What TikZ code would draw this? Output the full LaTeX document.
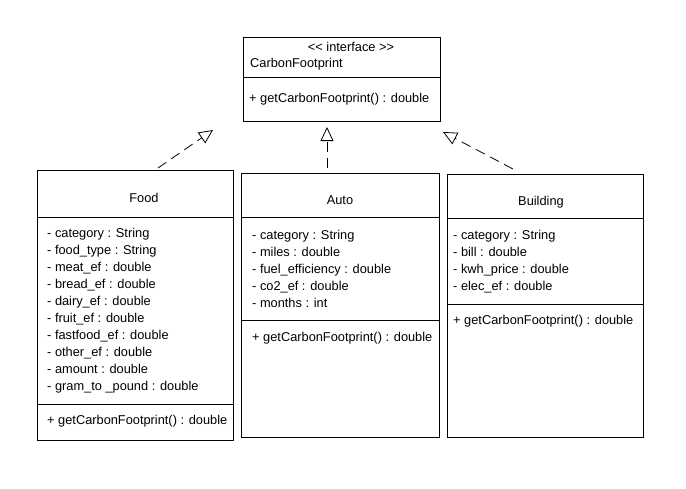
\documentclass[tikz,border=0pt]{standalone}
\usepackage{fontspec}
\setmainfont{Liberation Sans}
\usetikzlibrary{arrows.meta}
\begin{document}
\begin{tikzpicture}[x=1pt,y=-1pt,
  box/.style={draw,line width=0.9pt,anchor=north west,inner sep=0pt,outer sep=0pt},
  txt/.style={anchor=base west,inner sep=0pt,font=\fontsize{12.8}{14}\selectfont},
  ctxt/.style={anchor=base,inner sep=0pt,font=\fontsize{12.8}{14}\selectfont},
  divider/.style={line width=0.9pt},
  realize/.style={line width=0.8pt,dash pattern=on 10pt off 6pt,
    -{Triangle[open,length=14pt,width=13pt,line width=0.8pt]}}]
\useasboundingbox[fill=white] (0,0) rectangle (686,488);

% Interface
\node[box,minimum width=197pt,minimum height=84pt] (cf) at (243,37) {};
\draw[divider] (243,77) -- (440,77);
\node[ctxt] (cfst) at (351,51) {{<}{<} interface {>}{>}};
\node[txt] (cfname) at (250,67) {CarbonFootprint};
\node[txt] (cfm) at (249,102) {+ getCarbonFootprint() : double};

% Food
\node[box,minimum width=196pt,minimum height=270pt] (food) at (37,170) {};
\draw[divider] (37,217) -- (233,217);
\draw[divider] (37,404) -- (233,404);
\node[ctxt] (foodname) at (144,202) {Food};
\foreach \t [count=\i from 0] in {- category : String,- food\_type : String,- meat\_ef : double,- bread\_ef : double,- dairy\_ef : double,- fruit\_ef : double,- fastfood\_ef : double,- other\_ef : double,- amount : double,- gram\_to \_pound : double}
  \node[txt] (fa\i) at (47,237+17*\i) {\t};
\node[txt] (fm) at (47,424) {+ getCarbonFootprint() : double};

% Auto
\node[box,minimum width=198pt,minimum height=264pt] (auto) at (241,173) {};
\draw[divider] (241,217) -- (439,217);
\draw[divider] (241,320) -- (439,320);
\node[ctxt] (autoname) at (340,204) {Auto};
\foreach \t [count=\i from 0] in {- category : String,- miles : double,- fuel\_efficiency : double,- co2\_ef : double,- months : int}
  \node[txt] (aa\i) at (252,239+17*\i) {\t};
\node[txt] (am) at (252,341) {+ getCarbonFootprint() : double};

% Building
\node[box,minimum width=196pt,minimum height=263pt] (bld) at (447,174) {};
\draw[divider] (447,218) -- (643,218);
\draw[divider] (447,304) -- (643,304);
\node[ctxt] (bldname) at (541,205) {Building};
\foreach \t [count=\i from 0] in {- category : String,- bill : double,- kwh\_price : double,- elec\_ef : double}
  \node[txt] (ba\i) at (453,239+17*\i) {\t};
\node[txt] (bm) at (453,324) {+ getCarbonFootprint() : double};

% Realization arrows
\coordinate (fs) at (158,168);
\coordinate (ft) at (213,130);
\coordinate (as) at (327,168);
\coordinate (at) at (327,127);
\coordinate (bs) at (513,169);
\coordinate (bt) at (443,132);
\draw[realize] (fs) -- (ft);
\draw[realize] (as) -- (at);
\draw[realize] (bs) -- (bt);
\end{tikzpicture}
\end{document}
